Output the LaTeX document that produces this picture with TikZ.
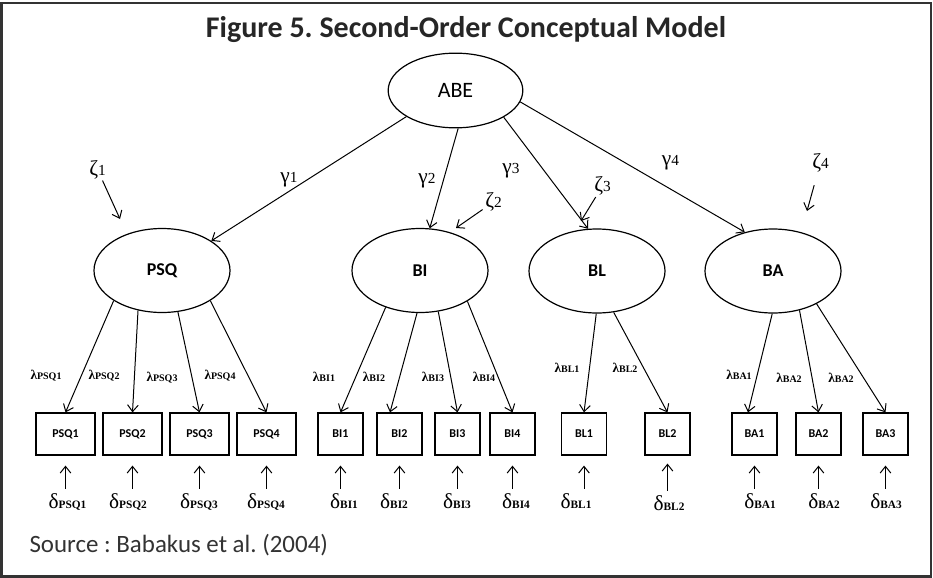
\documentclass[tikz,border=0pt]{standalone}
\usepackage{fontspec}
\setmainfont{Liberation Serif}
\newfontfamily\calfont{Carlito}
\usepackage{tikz}
\usetikzlibrary{shapes.geometric, arrows.meta, calc}
\frenchspacing

\newcommand{\fsz}[1]{\fontsize{#1}{#1}\selectfont}
\newcommand{\lam}[1]{{\fsz{10}\bfseries λ}{\fsz{7.5}\bfseries #1}}
\newcommand{\dlt}[1]{{\fsz{16}δ}{\fsz{8.5}\bfseries #1}}
\newcommand{\grk}[2]{{\fsz{16}#1}{\fsz{11.5}#2}}

\begin{document}
\begin{tikzpicture}[
		x=0.75pt, y=-0.75pt,
		latent/.style={ellipse, draw, line width=0.9pt, inner sep=0pt, minimum width=102pt, minimum height=63pt, font=\calfont\fsz{13.5}\bfseries},
		item/.style={rectangle, draw, line width=0.9pt, inner sep=0pt, minimum width=33.75pt, minimum height=31.5pt, font=\calfont\fsz{9}\bfseries},
		wideitem/.style={item, minimum width=44.25pt},
		lbl/.style={inner sep=0pt},
		>={Straight Barb[length=5pt,width=8pt]},
		line width=0.75pt
		]

		\useasboundingbox (0,0) rectangle (933,578);
		\draw[line width=2pt, draw=black!80] (1.5,3) rectangle (931,576.5);

		% --- Titre et source ---
		\node[font=\calfont\fsz{22.5}\bfseries, text=black!85, anchor=base] (title) at (466,37) {Figure 5. Second-Order Conceptual Model};
		\node[font=\calfont\fsz{18.7}, text=black!80, anchor=base west, inner sep=0pt] (src) at (29,552) {Source : Babakus et al. (2004)};

		% --- Facteurs latents ---
		\node[latent, minimum width=101pt, minimum height=56pt, font=\calfont\fsz{16.5}] (ABE) at (455.5, 90.5) {ABE};
		\node[latent] (PSQ) at (162, 270.5) {PSQ};
		\node[latent] (BI) at (420, 270.5) {BI};
		\node[latent] (BL) at (597, 271) {BL};
		\node[latent] (BA) at (773, 271) {BA};

		% --- Indicateurs ---
		\node[wideitem] (PSQ1) at (65.5, 434) {PSQ1};
		\node[wideitem] (PSQ2) at (132.5, 434) {PSQ2};
		\node[wideitem] (PSQ3) at (199.5, 434) {PSQ3};
		\node[wideitem] (PSQ4) at (266.5, 434) {PSQ4};
		\node[item] (BI1) at (340.5, 434) {BI1};
		\node[item] (BI2) at (399.5, 434) {BI2};
		\node[item] (BI3) at (457.5, 434) {BI3};
		\node[item] (BI4) at (512.5, 434) {BI4};
		\node[item] (BL1) at (584, 434) {BL1};
		\node[item] (BL2) at (667.5, 434) {BL2};
		\node[item] (BA1) at (754.5, 434) {BA1};
		\node[item] (BA2) at (818.5, 434) {BA2};
		\node[item] (BA3) at (885.5, 434) {BA3};

		% --- gamma ---
		\draw[->] (ABE.208) -- (PSQ.31);
		\draw[->] (ABE.274) -- (BI.77);
		\draw[->] (ABE.331) -- (BL.102);
		\draw[->] (ABE.350) -- (BA.126);
		\node[lbl] (g1) at (289, 180) {\grk{γ}{1}};
		\node[lbl] (g2) at (427, 181) {\grk{γ}{2}};
		\node[lbl] (g3) at (511, 171) {\grk{γ}{3}};
		\node[lbl] (g4) at (670.5, 163) {\grk{γ}{4}};

		% --- zeta ---
		\node[lbl] (z1) at (97.5, 169.5) {\grk{ζ}{1}};
		\node[lbl] (z2) at (493.5, 202) {\grk{ζ}{2}};
		\node[lbl] (z3) at (602.5, 186) {\grk{ζ}{3}};
		\node[lbl] (z4) at (820.5, 162.5) {\grk{ζ}{4}};
		\coordinate (z1e) at (120, 219);
		\coordinate (z2e) at (456, 228);
		\coordinate (z3e) at (581, 221);
		\coordinate (z4e) at (807, 211);
		\draw[->, shorten <=1pt] (z1) -- (z1e);
		\draw[->, shorten <=2pt] (z2) -- (z2e);
		\draw[->, shorten <=1pt] (z3) -- (z3e);
		\draw[->, shorten <=10pt] (z4) -- (z4e);

		% --- lambda ---
		\draw[->] (PSQ.212) -- (PSQ1.north);
		\draw[->] (PSQ.239) -- (PSQ2.north);
		\draw[->] (PSQ.291) -- (PSQ3.north);
		\draw[->] (PSQ.328) -- (PSQ4.north);
		\draw[->] (BI.227) -- (BI1.north);
		\draw[->] (BI.266) -- ($(BI2.north)+(-9.5,0)$);
		\draw[->] (BI.294) -- (BI3.north);
		\draw[->] (BI.327) -- (BI4.north);
		\draw[->] (BL.269) -- (BL1.north);
		\draw[->] (BL.292) -- (BL2.north);
		\draw[->] (BA.269) -- ($(BA1.north)+(-6.5,0)$);
		\draw[->] (BA.304) -- (BA2.north);
		\draw[->] (BA.323) -- (BA3.north);

		\node[lbl] (lPSQ1) at (46, 376) {\lam{PSQ1}};
		\node[lbl] (lPSQ2) at (104, 376) {\lam{PSQ2}};
		\node[lbl] (lPSQ3) at (162, 378) {\lam{PSQ3}};
		\node[lbl] (lPSQ4) at (220, 376) {\lam{PSQ4}};
		\node[lbl] (lBI1) at (324, 377) {\lam{BI1}};
		\node[lbl] (lBI2) at (374, 377) {\lam{BI2}};
		\node[lbl] (lBI3) at (433, 377) {\lam{BI3}};
		\node[lbl] (lBI4) at (484, 377) {\lam{BI4}};
		\node[lbl] (lBL1) at (567, 368) {\lam{BL1}};
		\node[lbl] (lBL2) at (625, 368) {\lam{BL2}};
		\node[lbl] (lBA1) at (739, 375) {\lam{BA1}};
		\node[lbl] (lBA2) at (789, 378) {\lam{BA2}};
		\node[lbl] (lBA3) at (841, 378) {\lam{BA2}};

		% --- delta ---
		\node[lbl, anchor=base] (dPSQ1) at (67.5, 508) {\dlt{PSQ1}};
		\node[lbl, anchor=base] (dPSQ2) at (128, 508) {\dlt{PSQ2}};
		\node[lbl, anchor=base] (dPSQ3) at (199, 508) {\dlt{PSQ3}};
		\node[lbl, anchor=base] (dPSQ4) at (266, 508) {\dlt{PSQ4}};
		\node[lbl, anchor=base] (dBI1) at (344, 508) {\dlt{BI1}};
		\node[lbl, anchor=base] (dBI2) at (394, 508) {\dlt{BI2}};
		\node[lbl, anchor=base] (dBI3) at (457, 508) {\dlt{BI3}};
		\node[lbl, anchor=base] (dBI4) at (516, 508) {\dlt{BI4}};
		\node[lbl, anchor=base] (dBL1) at (576, 508) {\dlt{BL1}};
		\node[lbl, anchor=base] (dBL2) at (669, 510) {\dlt{BL2}};
		\node[lbl, anchor=base] (dBA1) at (760, 508) {\dlt{BA1}};
		\node[lbl, anchor=base] (dBA2) at (824, 508) {\dlt{BA2}};
		\node[lbl, anchor=base] (dBA3) at (886, 508) {\dlt{BA3}};

		\draw[->, shorten <=3pt, shorten >=7.5pt] (PSQ1.south |- dPSQ1.north) -- (PSQ1.south);
		\draw[->, shorten <=3pt, shorten >=7.5pt] (PSQ2.south |- dPSQ2.north) -- (PSQ2.south);
		\draw[->, shorten <=3pt, shorten >=7.5pt] (PSQ3.south |- dPSQ3.north) -- (PSQ3.south);
		\draw[->, shorten <=3pt, shorten >=7.5pt] (PSQ4.south |- dPSQ4.north) -- (PSQ4.south);
		\draw[->, shorten <=3pt, shorten >=7.5pt] (BI1.south |- dBI1.north) -- (BI1.south);
		\draw[->, shorten <=3pt, shorten >=7.5pt] (BI2.south |- dBI2.north) -- (BI2.south);
		\draw[->, shorten <=3pt, shorten >=7.5pt] (BI3.south |- dBI3.north) -- (BI3.south);
		\draw[->, shorten <=3pt, shorten >=7.5pt] (BI4.south |- dBI4.north) -- (BI4.south);
		\draw[->, shorten <=3pt, shorten >=7.5pt] (BL1.south |- dBL1.north) -- (BL1.south);
		\draw[->, shorten <=3pt, shorten >=6pt] (BL2.south |- dBL2.north) -- (BL2.south);
		\draw[->, shorten <=3pt, shorten >=7.5pt] (BA1.south |- dBA1.north) -- (BA1.south);
		\draw[->, shorten <=3pt, shorten >=7.5pt] (BA2.south |- dBA2.north) -- (BA2.south);
		\draw[->, shorten <=3pt, shorten >=7.5pt] (BA3.south |- dBA3.north) -- (BA3.south);

	\end{tikzpicture}
\end{document}
